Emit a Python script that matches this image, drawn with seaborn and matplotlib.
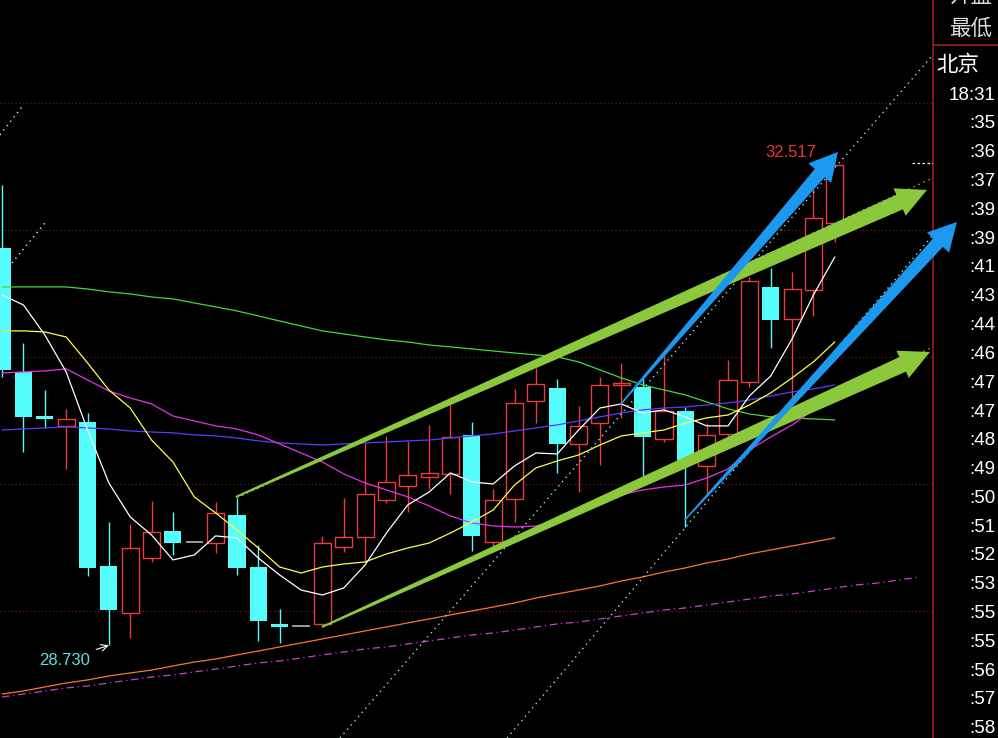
import numpy as np
import pandas as pd
import matplotlib
matplotlib.use("Agg")
import matplotlib.pyplot as plt
from matplotlib.patches import Polygon
import seaborn as sns

# K-line data (one bar per period)
opens = [31.858, 30.882, 30.535, 30.457, 30.488, 29.354, 28.984, 29.417, 29.630, 29.543,
         29.535, 29.756, 29.346, 28.898, 28.882, 28.898, 29.504, 29.583, 29.874, 29.984,
         30.055, 30.079, 30.386, 29.543, 29.882, 30.654, 30.756, 30.315, 30.480, 30.780,
         30.764, 30.354, 30.575, 30.142, 30.394, 30.803, 31.551, 31.299, 31.528, 32.055]
closes = [30.898, 30.528, 30.512, 30.512, 29.339, 29.008, 29.496, 29.622, 29.535, 29.543,
          29.772, 29.339, 28.921, 28.874, 28.882, 29.535, 29.583, 29.921, 30.016, 30.071,
          30.087, 30.370, 29.591, 29.874, 30.638, 30.787, 30.315, 30.457, 30.780, 30.795,
          30.370, 30.575, 30.165, 30.386, 30.819, 31.598, 31.291, 31.535, 32.094, 32.510]
highs = [32.354, 31.110, 30.740, 30.591, 30.559, 29.701, 29.685, 29.866, 29.780, 29.543,
         29.858, 29.890, 29.520, 29.016, 28.882, 29.591, 29.890, 30.323, 30.378, 30.339,
         30.465, 30.630, 30.488, 29.961, 30.748, 30.913, 30.827, 30.614, 30.843, 30.953,
         30.850, 31.016, 30.606, 30.480, 30.976, 31.630, 31.701, 31.669, 32.323, 32.517]
lows = [30.843, 30.252, 30.441, 30.118, 29.276, 28.730, 28.787, 29.386, 29.441, 29.543,
        29.457, 29.283, 28.764, 28.748, 28.882, 28.882, 29.465, 29.386, 29.850, 29.780,
        29.961, 29.921, 29.472, 29.496, 29.701, 30.480, 30.087, 29.937, 30.150, 30.520,
        30.047, 30.331, 29.661, 29.913, 30.346, 30.764, 31.071, 30.638, 31.323, 31.906]

ma_white = [31.488, 31.409, 31.173, 30.882, 30.425, 30.008, 29.740, 29.598, 29.402, 29.441,
            29.591, 29.575, 29.417, 29.283, 29.165, 29.126, 29.181, 29.362, 29.614, 29.835,
            29.937, 30.087, 30.016, 30.000, 30.142, 30.244, 30.236, 30.425, 30.598, 30.630,
            30.559, 30.583, 30.528, 30.457, 30.457, 30.693, 30.850, 31.142, 31.488, 31.787]
ma_yellow = [31.205, 31.205, 31.197, 31.157, 30.953, 30.740, 30.598, 30.346, 30.173, 29.898,
             29.772, 29.638, 29.496, 29.346, 29.299, 29.346, 29.370, 29.386, 29.449, 29.496,
             29.535, 29.614, 29.701, 29.795, 29.992, 30.126, 30.181, 30.228, 30.307, 30.378,
             30.402, 30.425, 30.480, 30.520, 30.543, 30.622, 30.717, 30.835, 30.961, 31.118]
ma_magenta = [30.874, 30.882, 30.890, 30.906, 30.819, 30.732, 30.677, 30.630, 30.535, 30.496,
              30.457, 30.433, 30.386, 30.315, 30.244, 30.173, 30.079, 30.008, 29.953, 29.898,
              29.827, 29.748, 29.693, 29.669, 29.661, 29.669, 29.709, 29.764, 29.843, 29.913,
              29.953, 29.976, 29.992, 30.047, 30.118, 30.268, 30.370, 30.465, 30.583, 30.677]
ma_blue = [30.425, 30.433, 30.441, 30.449, 30.441, 30.433, 30.417, 30.409, 30.402, 30.386,
           30.378, 30.362, 30.339, 30.323, 30.315, 30.307, 30.315, 30.323, 30.331, 30.339,
           30.346, 30.362, 30.378, 30.394, 30.417, 30.441, 30.465, 30.496, 30.528, 30.559,
           30.583, 30.598, 30.606, 30.622, 30.638, 30.661, 30.693, 30.724, 30.748, 30.780]
ma_green = [31.551, 31.551, 31.551, 31.551, 31.535, 31.512, 31.496, 31.472, 31.457, 31.425,
            31.394, 31.362, 31.323, 31.283, 31.244, 31.205, 31.181, 31.157, 31.134, 31.118,
            31.094, 31.079, 31.063, 31.047, 31.031, 31.016, 31.000, 30.961, 30.898, 30.835,
            30.780, 30.740, 30.701, 30.646, 30.591, 30.551, 30.528, 30.520, 30.512, 30.504]
ma_orange = [28.346, 28.370, 28.402, 28.433, 28.457, 28.488, 28.512, 28.535, 28.567, 28.598,
             28.622, 28.654, 28.685, 28.717, 28.748, 28.780, 28.811, 28.843, 28.874, 28.906,
             28.937, 28.969, 29.000, 29.031, 29.063, 29.102, 29.134, 29.165, 29.197, 29.236,
             29.268, 29.307, 29.339, 29.378, 29.409, 29.449, 29.480, 29.512, 29.543, 29.575]
ma_dashed = [28.323, 28.346, 28.370, 28.394, 28.409, 28.433, 28.457, 28.480, 28.496, 28.520,
             28.543, 28.567, 28.591, 28.606, 28.630, 28.654, 28.677, 28.701, 28.717, 28.740,
             28.764, 28.787, 28.811, 28.827, 28.850, 28.874, 28.898, 28.913, 28.937, 28.961,
             28.984, 29.008, 29.024, 29.047, 29.071, 29.094, 29.118, 29.134, 29.157, 29.181,
             29.205, 29.220, 29.244, 29.268]

# right-hand tick list
header_labels = ["开盘", "最低"]
city_label = "北京"
clock_label = "18:31"
time_labels = [":35", ":36", ":37", ":39", ":39", ":41", ":43", ":44", ":46", ":47", ":47",
               ":48", ":49", ":50", ":51", ":52", ":53", ":55", ":55", ":56", ":57", ":58"]

UP = "#ec3c3c"
DOWN = "#54fcfc"
FLAT = "#b4b4b4"
DIVIDER = "#9a1e1e"

sns.set_theme(style="dark", rc={"axes.facecolor": "black", "figure.facecolor": "black",
                                "savefig.facecolor": "black"})
plt.rcParams["font.family"] = ["Liberation Sans", "Noto Sans CJK SC", "DejaVu Sans"]

fig = plt.figure(figsize=(9.98, 7.38), dpi=100)
ax = fig.add_axes([0, 0, 933 / 998, 1])
ax.set_facecolor("black")
ax.set_xlim(0.9, 44.6)
ax.set_ylim(28.0, 33.81)
ax.set_xticks([])
ax.set_yticks([])
for side in ["left", "top", "bottom"]:
    ax.spines[side].set_visible(False)
ax.spines["right"].set_color(DIVIDER)
ax.spines["right"].set_linewidth(1.2)

# dotted price grid
for lvl in [29, 30, 31, 32, 33]:
    ax.axhline(lvl, color="#6e1616", lw=0.9, ls=(0, (1, 2)), zorder=0)

df = pd.DataFrame({"idx": np.arange(1, len(opens) + 1), "open": opens, "close": closes,
                   "high": highs, "low": lows})
up = df[df["close"] > df["open"]]
down = df[df["close"] < df["open"]]
flat = df[df["close"] == df["open"]]
w = 0.8

# falling bars: filled cyan
ax.vlines(down["idx"], down["low"], down["high"], color=DOWN, lw=1, zorder=2)
ax.bar(down["idx"], down["open"] - down["close"], bottom=down["close"], width=w,
       color=DOWN, lw=0, zorder=3)
# rising bars: hollow red
ax.vlines(up["idx"], up["close"], up["high"], color=UP, lw=1, zorder=2)
ax.vlines(up["idx"], up["low"], up["open"], color=UP, lw=1, zorder=2)
ax.bar(up["idx"], up["close"] - up["open"], bottom=up["open"], width=w,
       facecolor="black", edgecolor=UP, lw=1, zorder=3)
# unchanged bars
ax.hlines(flat["close"], flat["idx"] - w / 2, flat["idx"] + w / 2, color=FLAT, lw=1.2, zorder=3)

# moving averages
ma_specs = [(ma_orange, "#ff7430", "-"), (ma_dashed, "#d23cd2", (0, (6, 3, 1, 3))),
            (ma_green, "#3cdc3c", "-"), (ma_blue, "#5a3cff", "-"),
            (ma_magenta, "#e632e6", "-"), (ma_yellow, "#ffff46", "-"),
            (ma_white, "#ffffff", "-")]
for vals, col, ls in ma_specs:
    sns.lineplot(x=np.arange(1, len(vals) + 1), y=vals, ax=ax, color=col, lw=0.9,
                 linestyle=ls, errorbar=None, legend=False, zorder=4)

# current price marker
ax.hlines(closes[-1] + 0.02, 43.62, 44.6, color="white", lw=0.9, ls=(0, (2, 2)), zorder=4)

# drawn channel lines (dotted)
dotted = [([12, 44.6], [29.890, 32.409], "#86c846"),
          ([16, 44.6], [28.874, 31.079], "#86c846"),
          ([16.82, 44.6], [28.0, 33.378], "#8ae6e6"),
          ([24.65, 44.6], [28.0, 31.961], "#8ae6e6"),
          ([0.9, 1.93], [32.748, 32.969], "#eeeeaa"),
          ([1.46, 3.01], [31.740, 32.055], "#eeeeaa")]
for xs, ys, col in dotted:
    ax.plot(xs, ys, color=col, lw=1, ls=(0, (1, 3)), zorder=5)

# extreme-price labels
hi_i = int(np.argmax(highs)) + 1
lo_i = int(np.argmin(lows)) + 1
ax.annotate(f"{max(highs):.3f}", xy=(hi_i, max(highs)), xytext=(37.95, 32.606),
            color="#f03232", fontsize=12, ha="center", va="center", zorder=6,
            arrowprops=dict(arrowstyle="->", color="white", lw=0.8, shrinkA=1, shrinkB=0))
ax.annotate(f"{min(lows):.3f}", xy=(lo_i, min(lows)), xytext=(3.94, 28.614),
            color="#5ae0e6", fontsize=12, ha="center", va="center", zorder=6,
            arrowprops=dict(arrowstyle="->", color="white", lw=0.8, shrinkA=2, shrinkB=0))


def tapered_arrow(start, end, w0, w1, head_w, head_len, color, z):
    p0, p1 = ax.transData.transform([start, end])
    d = p1 - p0
    u = d / np.hypot(*d)
    n = np.array([-u[1], u[0]])
    base = p1 - u * head_len
    pts = [p0 + n * w0 / 2, base + n * w1 / 2, base + n * head_w / 2, p1,
           base - n * head_w / 2, base - n * w1 / 2, p0 - n * w0 / 2]
    verts = ax.transData.inverted().transform(pts)
    ax.add_patch(Polygon(verts, closed=True, facecolor=color, edgecolor="none",
                         zorder=z, clip_on=False))


# hand-drawn trend arrows
tapered_arrow((11.95, 29.898), (44.32, 32.315), 2, 16, 30, 30, "#8cc83c", 7)
tapered_arrow((15.98, 28.874), (44.46, 31.039), 2, 16, 30, 30, "#8cc83c", 7)
tapered_arrow((29.94, 30.622), (40.15, 32.614), 1.5, 13, 30, 28, "#1c98ee", 8)
tapered_arrow((32.98, 29.717), (45.72, 32.063), 1.5, 13, 30, 28, "#1c98ee", 8)

# right-hand panel
rax = fig.add_axes([933 / 998, 0, 65 / 998, 1])
rax.set_xlim(0, 1)
rax.set_ylim(0, 1)
rax.axis("off")
rax.axhline(1 - 45 / 738, color=DIVIDER, lw=1.2)
cjk = ["Noto Sans CJK SC", "DejaVu Sans"]
for lab, yc in zip(header_labels, [-3, 29]):
    rax.text(0.915, 1 - yc / 738, lab, color="#dcdcdc", fontsize=15.5, family=cjk,
             ha="right", va="center")
rax.text(0.046, 1 - 65 / 738, city_label, color="white", fontsize=15.5, family=cjk,
         ha="left", va="center")
rax.text(0.955, 1 - 95 / 738, clock_label, color="white", fontsize=13.5, ha="right", va="center")
for k, lab in enumerate(time_labels):
    rax.text(0.955, 1 - (124 + k * 28.8) / 738, lab, color="white", fontsize=13.5,
             ha="right", va="center")

fig.savefig("out.png", dpi=100, facecolor="black")
